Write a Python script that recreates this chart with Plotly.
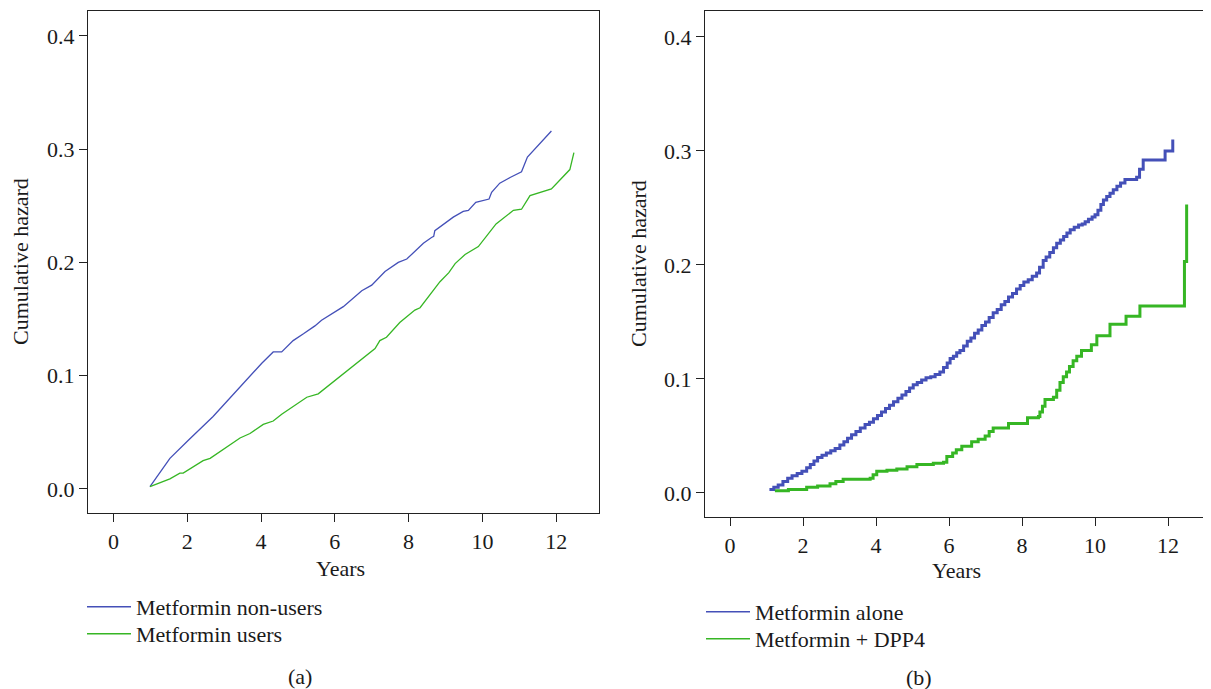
import plotly.graph_objects as go

# ---------------- data ----------------
# Panel (a): smoothed cumulative hazard curves
a_nonusers_t = [0.99, 1.53, 2.03, 2.70, 4.02, 4.33, 4.56, 4.87, 5.15, 5.46, 5.64, 6.23, 6.73,
                7.00, 7.36, 7.72, 7.95, 8.40, 8.62, 8.68, 8.71, 9.21, 9.48, 9.62, 9.82, 10.18,
                10.25, 10.47, 10.75, 11.06, 11.22, 11.87]
a_nonusers_v = [0.002, 0.027, 0.043, 0.064, 0.111, 0.121, 0.121, 0.131, 0.137, 0.144, 0.149, 0.161, 0.175,
                0.180, 0.192, 0.200, 0.203, 0.217, 0.222, 0.223, 0.228, 0.240, 0.245, 0.246, 0.253, 0.256,
                0.262, 0.270, 0.275, 0.280, 0.293, 0.316]

a_users_t = [0.99, 1.53, 1.80, 1.89, 2.43, 2.62, 3.43, 3.70, 4.06, 4.33, 4.56, 4.74, 5.24, 5.55,
             6.14, 6.50, 6.86, 7.09, 7.22, 7.40, 7.76, 7.87, 8.17, 8.31, 8.85, 9.09, 9.26, 9.53,
             9.89, 10.37, 10.58, 10.84, 11.06, 11.29, 11.87, 12.37, 12.48]
a_users_v = [0.002, 0.009, 0.014, 0.014, 0.025, 0.027, 0.045, 0.049, 0.057, 0.060, 0.066, 0.070, 0.081, 0.084,
             0.099, 0.109, 0.118, 0.124, 0.131, 0.134, 0.147, 0.150, 0.158, 0.160, 0.183, 0.191, 0.199, 0.207,
             0.214, 0.234, 0.239, 0.246, 0.247, 0.259, 0.265, 0.282, 0.297]

# Panel (b): step cumulative hazard curves
b_alone_t = [1.08, 1.20, 1.32, 1.45, 1.58, 1.70, 1.84, 1.97, 2.10, 2.20, 2.30, 2.40, 2.52, 2.64,
             2.76, 2.88, 3.01, 3.12, 3.22, 3.33, 3.45, 3.57, 3.70, 3.82, 3.93, 4.04, 4.15, 4.26,
             4.37, 4.48, 4.60, 4.71, 4.82, 4.92, 5.02, 5.13, 5.25, 5.37, 5.50, 5.62, 5.75, 5.85,
             5.95, 6.03, 6.12, 6.21, 6.30, 6.40, 6.50, 6.60, 6.70, 6.80, 6.90, 7.00, 7.10, 7.21,
             7.32, 7.43, 7.53, 7.63, 7.74, 7.85, 7.95, 8.05, 8.17, 8.28, 8.40, 8.48, 8.58, 8.66,
             8.76, 8.86, 8.95, 9.05, 9.14, 9.23, 9.32, 9.43, 9.55, 9.65, 9.73, 9.82, 9.92, 10.00,
             10.08, 10.16, 10.23, 10.32, 10.41, 10.50, 10.60, 10.70, 10.82, 11.14, 11.22, 11.32,
             11.92, 12.13]
b_alone_v = [0.003, 0.005, 0.007, 0.010, 0.013, 0.015, 0.017, 0.019, 0.022, 0.025, 0.028, 0.031, 0.033, 0.035,
             0.037, 0.039, 0.042, 0.045, 0.048, 0.051, 0.054, 0.057, 0.060, 0.062, 0.065, 0.068, 0.071, 0.074,
             0.077, 0.080, 0.083, 0.086, 0.089, 0.092, 0.095, 0.097, 0.099, 0.101, 0.102, 0.104, 0.106, 0.110,
             0.114, 0.118, 0.120, 0.123, 0.125, 0.129, 0.133, 0.136, 0.140, 0.143, 0.147, 0.150, 0.154, 0.158,
             0.161, 0.165, 0.168, 0.172, 0.175, 0.179, 0.182, 0.185, 0.187, 0.190, 0.193, 0.198, 0.204, 0.207,
             0.211, 0.215, 0.219, 0.222, 0.225, 0.228, 0.231, 0.233, 0.235, 0.236, 0.238, 0.240, 0.242, 0.244,
             0.248, 0.253, 0.257, 0.260, 0.263, 0.266, 0.269, 0.272, 0.275, 0.277, 0.284, 0.292,
             0.300, 0.310]

b_dpp4_t = [1.23, 1.60, 2.10, 2.40, 2.74, 2.90, 3.10, 3.84, 3.92, 4.02, 4.30, 4.57, 4.85, 5.12,
            5.57, 5.85, 5.94, 6.10, 6.20, 6.35, 6.62, 6.80, 6.99, 7.10, 7.21, 7.63, 8.15, 8.45,
            8.49, 8.56, 8.63, 8.86, 8.95, 9.04, 9.13, 9.22, 9.30, 9.40, 9.50, 9.63, 9.90, 10.05,
            10.41, 10.85, 11.23, 12.45, 12.51]
b_dpp4_v = [0.002, 0.003, 0.005, 0.006, 0.008, 0.010, 0.012, 0.013, 0.016, 0.019, 0.020, 0.021, 0.023, 0.025,
            0.026, 0.027, 0.032, 0.035, 0.038, 0.041, 0.045, 0.047, 0.050, 0.054, 0.057, 0.061, 0.066, 0.067,
            0.071, 0.076, 0.082, 0.084, 0.090, 0.097, 0.102, 0.106, 0.111, 0.116, 0.120, 0.125, 0.130, 0.138,
            0.148, 0.155, 0.164, 0.203, 0.253]

x_ticks = [0, 2, 4, 6, 8, 10, 12]
y_ticks = [0.0, 0.1, 0.2, 0.3, 0.4]
y_ticklabels = ["0.0", "0.1", "0.2", "0.3", "0.4"]

BLUE = "#4450B8"
GREEN = "#36B624"
FONT = "Liberation Serif"
FS = 22
TXT = "#1a1a1a"
OFF = 8                      # page body margin of the browser
W, H = 1211 - OFF, 689 - OFF


def px(x):
    return (x - OFF) / W


def py(y):
    return 1 - (y - OFF) / H


fig = go.Figure()
fig.add_trace(go.Scatter(x=a_nonusers_t, y=a_nonusers_v, mode="lines", showlegend=False,
                         line=dict(color=BLUE, width=1.3), xaxis="x", yaxis="y"))
fig.add_trace(go.Scatter(x=a_users_t, y=a_users_v, mode="lines", showlegend=False,
                         line=dict(color=GREEN, width=1.3), xaxis="x", yaxis="y"))
fig.add_trace(go.Scatter(x=b_alone_t, y=b_alone_v, mode="lines", showlegend=False,
                         line=dict(color=BLUE, width=3, shape="hv"), xaxis="x2", yaxis="y2"))
fig.add_trace(go.Scatter(x=b_dpp4_t, y=b_dpp4_v, mode="lines", showlegend=False,
                         line=dict(color=GREEN, width=3, shape="hv"), xaxis="x2", yaxis="y2"))

# legend entries (thin key lines as in the reference), one legend per row
legend_rows = [("Metformin non-users", BLUE, "legend", ("x", "y"), 82, 607),
               ("Metformin users", GREEN, "legend2", ("x", "y"), 82, 634),
               ("Metformin alone", BLUE, "legend3", ("x2", "y2"), 701, 612),
               ("Metformin + DPP4", GREEN, "legend4", ("x2", "y2"), 701, 639)]
legend_layout = {}
for name, col, leg, ax, lx, ly in legend_rows:
    fig.add_trace(go.Scatter(x=[None], y=[None], mode="lines", name=name, legend=leg,
                             line=dict(color=col, width=1.5), xaxis=ax[0], yaxis=ax[1]))
    legend_layout[leg] = dict(x=px(lx), y=py(ly), xanchor="left", yanchor="middle",
                              bgcolor="rgba(0,0,0,0)", font=dict(family=FONT, size=FS, color=TXT),
                              itemwidth=44)

axis_common = dict(showgrid=False, zeroline=False, showline=True, mirror=True, linecolor="#222",
                   linewidth=1.3, ticks="outside", ticklen=8, tickwidth=1.2, tickcolor="#222",
                   tickfont=dict(family=FONT, size=FS, color=TXT))

fig.update_layout(
    width=W, height=H, margin=dict(l=0, r=0, t=0, b=0),
    paper_bgcolor="white", plot_bgcolor="white",
    font=dict(family=FONT, size=FS, color=TXT),
    xaxis=dict(domain=[px(88), px(599)], range=[-0.69, 13.16], tickvals=x_ticks, anchor="y", **axis_common),
    yaxis=dict(domain=[py(513), py(11)], range=[-0.0212, 0.422], tickvals=y_ticks,
               ticktext=y_ticklabels, anchor="x", **axis_common),
    xaxis2=dict(domain=[px(705), px(1210)], range=[-0.685, 13.15], tickvals=x_ticks, anchor="y2", **axis_common),
    yaxis2=dict(domain=[py(517), py(11)], range=[-0.0211, 0.4228], tickvals=y_ticks,
                ticktext=y_ticklabels, anchor="x2", **axis_common),
    showlegend=True,
    **legend_layout,
)

annots = [
    dict(text="Cumulative hazard", x=px(20), y=py(262), textangle=-90),
    dict(text="Cumulative hazard", x=px(638), y=py(264), textangle=-90),
    dict(text="Years", x=px(340), y=py(568)),
    dict(text="Years", x=px(956), y=py(570)),
    dict(text="(a)", x=px(300), y=py(676)),
    dict(text="(b)", x=px(919), y=py(677)),
]
for a in annots:
    fig.add_annotation(xref="paper", yref="paper", showarrow=False, xanchor="center", yanchor="middle",
                       font=dict(family=FONT, size=FS, color=TXT), **a)

fig.write_html("out.html")
